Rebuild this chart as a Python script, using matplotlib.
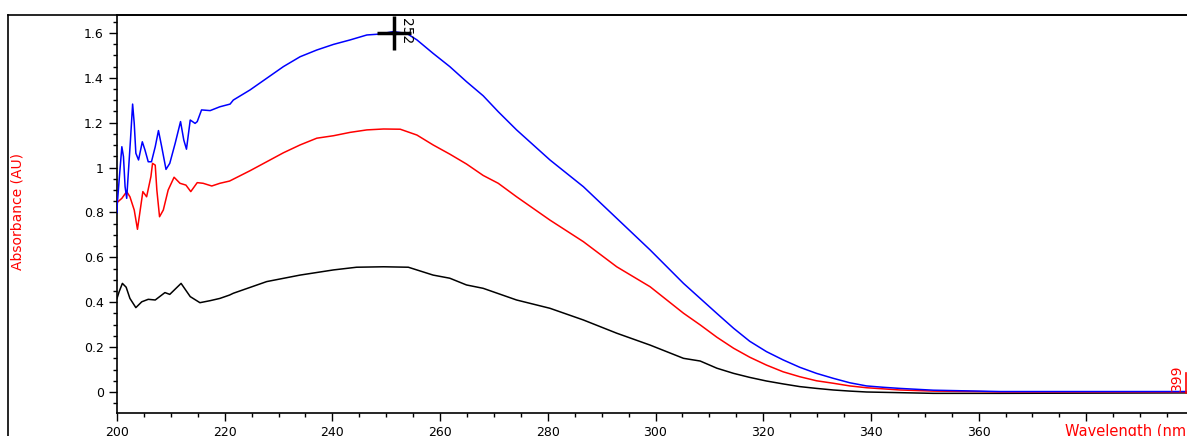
import matplotlib
matplotlib.use("Agg")
import matplotlib.pyplot as plt
from matplotlib.lines import Line2D
from matplotlib.ticker import MultipleLocator

# ---- data ----
wl_blue = [200.0, 200.06, 200.4, 200.9, 201.2, 201.5, 201.8, 202.1, 202.5, 202.9,
           203.2, 203.5, 204.0, 204.7, 205.2, 205.8, 206.4, 207.1, 207.7, 208.3,
           209.1, 209.8, 210.8, 211.8, 212.4, 212.9, 213.6, 214.5, 214.9, 215.7,
           217.3, 219.1, 221.0, 221.6, 224.7, 227.8, 230.9, 234.0, 237.1, 240.2,
           243.3, 246.4, 248.8, 251.3, 253.8, 255.7, 258.7, 261.8, 264.9, 268.0,
           270.8, 274.2, 280.4, 286.6, 292.8, 299.0, 305.2, 308.3, 311.4, 314.5,
           317.5, 320.6, 323.7, 326.8, 329.9, 333.0, 336.1, 339.2, 342.3, 345.4,
           351.6, 357.8, 364.0, 380.0, 399.0]
abs_blue = [0.80, 0.84, 0.945, 1.093, 1.049, 0.915, 0.863, 0.975, 1.123, 1.283,
            1.197, 1.064, 1.034, 1.115, 1.078, 1.026, 1.026, 1.093, 1.165, 1.093,
            0.992, 1.019, 1.108, 1.205, 1.123, 1.082, 1.212, 1.197, 1.205, 1.257,
            1.254, 1.271, 1.283, 1.301, 1.346, 1.398, 1.450, 1.494, 1.524, 1.549,
            1.569, 1.591, 1.595, 1.606, 1.598, 1.569, 1.509, 1.450, 1.383, 1.320,
            1.249, 1.168, 1.034, 0.915, 0.774, 0.633, 0.484, 0.417, 0.350, 0.284,
            0.226, 0.180, 0.143, 0.110, 0.083, 0.061, 0.041, 0.027, 0.021, 0.016,
            0.008, 0.005, 0.002, 0.002, 0.002]

wl_red = [200.0, 200.9, 201.8, 202.4, 203.2, 203.8, 204.8, 205.5, 206.3, 206.6,
          207.1, 207.4, 207.9, 208.6, 209.5, 210.6, 211.7, 212.8, 213.7, 214.9,
          216.0, 217.6, 219.1, 220.9, 224.7, 227.8, 230.9, 234.0, 237.1, 240.2,
          243.3, 246.4, 249.5, 252.6, 255.7, 258.7, 261.8, 264.9, 268.0, 270.8,
          274.2, 280.4, 286.6, 292.8, 299.0, 305.2, 308.3, 311.4, 314.5, 317.5,
          320.6, 323.7, 326.8, 329.9, 333.0, 336.1, 339.2, 345.4, 351.6, 360.0,
          364.0, 399.0]
abs_red = [0.844, 0.863, 0.893, 0.870, 0.811, 0.725, 0.893, 0.870, 0.960, 1.019,
           1.011, 0.900, 0.781, 0.811, 0.900, 0.957, 0.930, 0.922, 0.893, 0.933,
           0.930, 0.918, 0.930, 0.940, 0.986, 1.026, 1.066, 1.101, 1.131, 1.142,
           1.157, 1.168, 1.172, 1.171, 1.145, 1.101, 1.060, 1.016, 0.965, 0.930,
           0.870, 0.766, 0.670, 0.558, 0.469, 0.351, 0.299, 0.244, 0.195, 0.155,
           0.120, 0.090, 0.068, 0.050, 0.039, 0.027, 0.019, 0.009, 0.004, 0.002,
           0.0, 0.0]

wl_black = [200.0, 200.4, 201.0, 201.7, 202.4, 203.5, 204.6, 205.8, 207.1, 208.9,
            209.8, 211.9, 213.6, 215.4, 217.3, 219.1, 220.9, 221.6, 227.8, 234.0,
            240.2, 244.5, 249.5, 254.1, 258.7, 261.8, 264.9, 268.0, 274.2, 280.4,
            286.6, 292.8, 299.0, 305.2, 308.3, 311.4, 314.5, 317.5, 320.6, 323.7,
            326.8, 329.9, 333.0, 336.1, 339.2, 351.6, 364.0, 399.0]
abs_black = [0.417, 0.447, 0.484, 0.467, 0.417, 0.376, 0.402, 0.413, 0.410, 0.443,
             0.435, 0.484, 0.425, 0.398, 0.407, 0.417, 0.432, 0.440, 0.492, 0.521,
             0.544, 0.556, 0.558, 0.556, 0.521, 0.507, 0.477, 0.462, 0.410, 0.373,
             0.321, 0.262, 0.209, 0.150, 0.138, 0.106, 0.083, 0.065, 0.049, 0.036,
             0.024, 0.016, 0.009, 0.004, 0.0, -0.006, -0.006, -0.004]

x_ticks = [200, 220, 240, 260, 280, 300, 320, 340, 360, 380]
x_tick_labels = ["200", "220", "240", "260", "280", "300", "320", "340", "360", ""]
y_ticks = [0, 0.2, 0.4, 0.6, 0.8, 1, 1.2, 1.4, 1.6]
y_tick_labels = ["0", "0.2", "0.4", "0.6", "0.8", "1", "1.2", "1.4", "1.6"]

peak_wl, peak_abs, peak_label = 252, 1.6, "252"
end_wl, end_label = 396.8, "399"

# ---- figure ----
W, H = 1187, 436
fig = plt.figure(figsize=(W / 100, H / 100), dpi=100)
fig.patch.set_facecolor("white")

left, right, top, bottom = 117, 1187, 15, 413
ax = fig.add_axes([left / W, 1 - bottom / H, (right - left) / W, (bottom - top) / H])
ax.set_xlim(200, 398.7)
ax.set_ylim(-0.0936, 1.680)

ax.plot(wl_black, abs_black, color="black", lw=1.1, zorder=2)
ax.plot(wl_red, abs_red, color="#ff0000", lw=1.1, zorder=3)
ax.plot(wl_blue, abs_blue, color="#0000ff", lw=1.1, zorder=4)

# peak marker
ax.plot([peak_wl - 0.6], [peak_abs], marker="+", ms=25, mew=2.5, color="black", zorder=5)
ax.text(peak_wl + 1.6, peak_abs + 0.01, peak_label, rotation=270, ha="center",
        va="center", fontsize=10, color="black", zorder=6)
ax.text(end_wl, 0.062, end_label, rotation=90, ha="center", va="center",
        fontsize=10, color="#ff0000", zorder=6)
ax.plot([398.6, 398.6], [-0.003, 0.085], color="#ff0000", lw=1.2, zorder=6)

ax.set_xticks(x_ticks)
ax.set_xticklabels(x_tick_labels)
ax.set_yticks(y_ticks)
ax.set_yticklabels(y_tick_labels)
ax.xaxis.set_minor_locator(MultipleLocator(5))
ax.yaxis.set_minor_locator(MultipleLocator(0.05))
ax.tick_params(axis="both", which="major", direction="out", length=5.5, width=1,
               labelsize=9, pad=4, colors="black")
ax.tick_params(axis="both", which="minor", direction="out", length=3, width=1)
ax.spines["right"].set_visible(False)
for s in ["left", "bottom", "top"]:
    ax.spines[s].set_linewidth(1.2)
    ax.spines[s].set_color("black")

# outer frame
fig.add_artist(Line2D([8 / W, 1.0], [1 - 15 / H, 1 - 15 / H], color="black", lw=1.2))
fig.add_artist(Line2D([8 / W, 8 / W], [1 - 15 / H, 0], color="black", lw=1.2))

fig.text(18 / W, 1 - 212 / H, "Absorbance (AU)", rotation=90, ha="center",
         va="center", fontsize=10, color="#ff0000")
fig.text(1065 / W, 1 - 424 / H, "Wavelength (nm)", ha="left", va="top",
         fontsize=10.5, color="#ff0000")

fig.savefig("out.png", dpi=100, facecolor="white")
